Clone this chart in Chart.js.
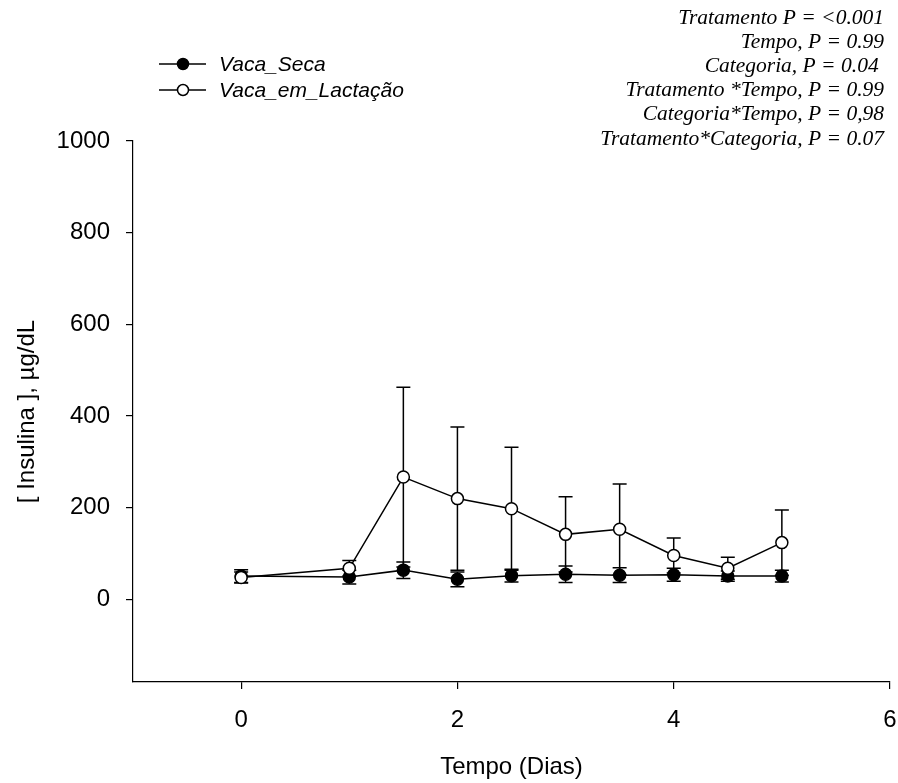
<!DOCTYPE html>
<html>
<head>
<meta charset="utf-8">
<script src="https://cdn.jsdelivr.net/npm/chart.js@4"></script>
<style>
  body { margin: 0; background: #fff; }
  #wrap { width: 898px; height: 783px; }
</style>
</head>
<body>
<div id="wrap"><canvas id="insulinchart" width="898" height="783"></canvas></div>
<script>
// data
const dias = [0, 1, 1.5, 2, 2.5, 3, 3.5, 4, 4.5, 5];
const secaMean = [51, 49, 64, 44, 52, 55, 53, 54, 51, 51];
const secaErr = [14, 15, 18, 16, 14, 18, 16, 14, 11, 13];
const lactMean = [48, 68, 267, 220, 198, 142, 153, 96, 68, 124];
const lactErr = [12, 17, 196, 156, 134, 82, 99, 38, 24, 71];
const xTicks = [0, 2, 4, 6];
const yTicks = [0, 200, 400, 600, 800, 1000];
const seriesNames = ['Vaca_Seca', 'Vaca_em_Lactação'];
const statsText = [
  'Tratamento P = <0.001',
  'Tempo, P = 0.99',
  'Categoria, P = 0.04 ',
  'Tratamento *Tempo, P = 0.99',
  'Categoria*Tempo, P = 0,98',
  'Tratamento*Categoria, P = 0.07'
];

const toPoints = (xs, ys) => xs.map((x, i) => ({ x: x, y: ys[i] }));

// error bars (drawn under the lines and markers)
const errorBars = {
  id: 'errorBars',
  beforeDatasetsDraw(chart) {
    const ctx = chart.ctx;
    const xs = chart.scales.x, ys = chart.scales.y;
    ctx.save();
    ctx.strokeStyle = '#000';
    ctx.lineWidth = 1.5;
    chart.data.datasets.forEach(ds => {
      ds.data.forEach((p, i) => {
        const e = ds.errors[i];
        const px = xs.getPixelForValue(p.x);
        const top = ys.getPixelForValue(p.y + e);
        const bot = ys.getPixelForValue(p.y - e);
        ctx.beginPath();
        ctx.moveTo(px, top); ctx.lineTo(px, bot);
        ctx.moveTo(px - 7, top); ctx.lineTo(px + 7, top);
        ctx.moveTo(px - 7, bot); ctx.lineTo(px + 7, bot);
        ctx.stroke();
      });
    });
    ctx.restore();
  }
};

// legend + statistics text
const extras = {
  id: 'extras',
  afterDraw(chart) {
    const ctx = chart.ctx;
    ctx.save();
    // legend
    const fills = ['#000', '#fff'];
    const rows = [64, 90];
    rows.forEach((y, i) => {
      ctx.strokeStyle = '#000';
      ctx.lineWidth = 1.5;
      ctx.beginPath();
      ctx.moveTo(159, y); ctx.lineTo(206, y);
      ctx.stroke();
      ctx.beginPath();
      ctx.arc(183, y, 5.5, 0, Math.PI * 2);
      ctx.fillStyle = fills[i];
      ctx.fill();
      ctx.stroke();
      ctx.fillStyle = '#000';
      ctx.font = 'italic 21px "Liberation Sans", Arial, sans-serif';
      ctx.textAlign = 'left';
      ctx.textBaseline = 'middle';
      ctx.fillText(seriesNames[i], 219, y + 1);
    });
    // statistics
    ctx.font = 'italic 21.5px "Liberation Serif", "Times New Roman", serif';
    ctx.textAlign = 'right';
    ctx.textBaseline = 'middle';
    statsText.forEach((t, i) => {
      ctx.fillText(t, 884, 18 + i * 24.2);
    });
    ctx.restore();
  }
};

const insulinconfig = {
  type: 'scatter',
  data: {
    datasets: [
      {
        label: seriesNames[0],
        data: toPoints(dias, secaMean),
        errors: secaErr,
        showLine: true,
        borderColor: '#000',
        borderWidth: 1.5,
        backgroundColor: '#000',
        pointBackgroundColor: '#000',
        pointBorderColor: '#000',
        pointBorderWidth: 1.5,
        pointRadius: 6,
        order: 1
      },
      {
        label: seriesNames[1],
        data: toPoints(dias, lactMean),
        errors: lactErr,
        showLine: true,
        borderColor: '#000',
        borderWidth: 1.5,
        backgroundColor: '#fff',
        pointBackgroundColor: '#fff',
        pointBorderColor: '#000',
        pointBorderWidth: 1.5,
        pointRadius: 6,
        order: 0
      }
    ]
  },
  options: {
    responsive: false,
    animation: false,
    layout: { padding: { top: 141, right: 8, left: 0, bottom: 0 } },
    plugins: {
      legend: { display: false },
      tooltip: { enabled: false }
    },
    scales: {
      x: {
        type: 'linear',
        min: -1,
        max: 6,
        afterBuildTicks: s => { s.ticks = xTicks.map(v => ({ value: v })); },
        afterFit: s => { s.height = 101; s.paddingRight = 0; s.paddingLeft = 0; },
        border: { display: true, color: '#000', width: 1.2 },
        grid: { drawOnChartArea: false, drawTicks: true, tickLength: 7, color: '#000', lineWidth: 1.2 },
        ticks: {
          color: '#000',
          padding: 17,
          maxRotation: 0,
          font: { family: '"Liberation Sans", Arial, sans-serif', size: 24 }
        },
        title: {
          display: true,
          text: 'Tempo (Dias)',
          color: '#000',
          padding: { top: 0, bottom: 1 },
          font: { family: '"Liberation Sans", Arial, sans-serif', size: 24 }
        }
      },
      y: {
        min: -180,
        max: 1000,
        afterBuildTicks: s => { s.ticks = yTicks.map(v => ({ value: v })); },
        afterFit: s => { s.width = 133; },
        border: { display: true, color: '#000', width: 1.2 },
        grid: { drawOnChartArea: false, drawTicks: true, tickLength: 7, color: '#000', lineWidth: 1.2 },
        ticks: {
          color: '#000',
          padding: 16,
          callback: v => String(v),
          font: { family: '"Liberation Sans", Arial, sans-serif', size: 24 }
        },
        title: {
          display: true,
          text: '[ Insulina ], µg/dL',
          color: '#000',
          padding: { top: 13, bottom: 0 },
          font: { family: '"Liberation Sans", Arial, sans-serif', size: 24 }
        }
      }
    }
  },
  plugins: [errorBars, extras]
};

const insulinchart = new Chart(
  document.getElementById('insulinchart'),
  insulinconfig
);
</script>
</body>
</html>
